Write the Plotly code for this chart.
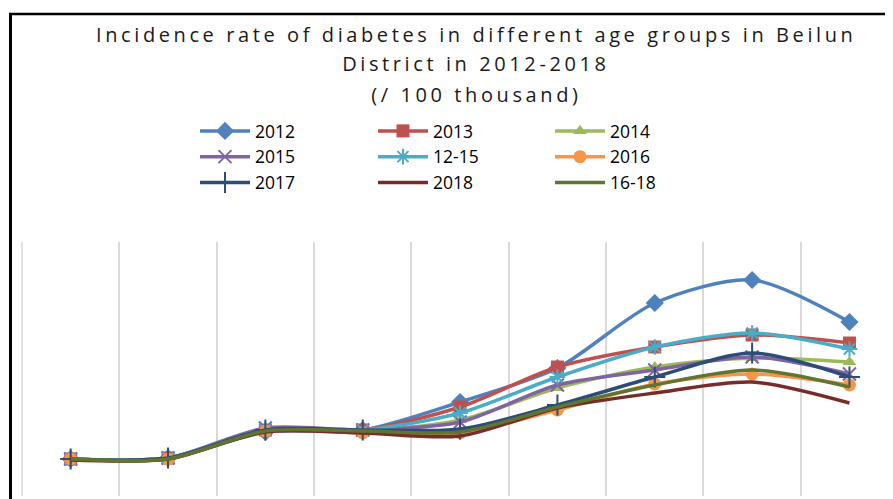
import plotly.graph_objects as go

age_groups = ["<25", "25-", "35-", "45-", "55-", "60-", "65-", "70-", "75+"]

series_names = ["2012", "2013", "2014", "2015", "12-15", "2016", "2017", "2018", "16-18"]
y2012 = [120, 123, 201, 207, 291, 393, 588, 657, 531]
y2013 = [120, 123, 207, 207, 276, 396, 456, 492, 468]
y2014 = [120, 123, 207, 204, 237, 333, 396, 423, 411]
y2015 = [120, 123, 213, 207, 231, 342, 387, 426, 375]
y1215 = [120, 123, 207, 207, 258, 366, 456, 498, 450]
y2016 = [120, 120, 204, 198, 198, 267, 345, 375, 342]
y2017 = [120, 123, 207, 207, 210, 282, 366, 438, 366]
y2018 = [117, 120, 201, 198, 189, 273, 318, 351, 288]
y1618 = [120, 120, 204, 204, 201, 276, 342, 387, 336]

title_lines = ["Incidence rate of diabetes in different age groups in Beilun",
               "District in 2012-2018",
               "(/ 100 thousand)"]

values = [y2012, y2013, y2014, y2015, y1215, y2016, y2017, y2018, y1618]
colors = ["#4F81BD", "#C0504D", "#9BBB59", "#8064A2", "#4BACC6",
          "#F79646", "#2C4D75", "#772C2A", "#5F7530"]
symbols = ["diamond", "square", "triangle-up", "x-thin-open", "asterisk-open",
           "circle", "cross-thin-open", None, None]
sizes = [14, 13, 12, 13, 13, 13, 15, 0, 0]
legend_ids = ["legend", "legend2", "legend3"] * 3

# figure is placed at an 8px body margin offset
W, H = 885, 491
L, R, T, B = 13, 885, 234, 488
step = 97.35

fig = go.Figure()
xs = list(range(len(age_groups)))
for name, ys, c, s, sz, lg in zip(series_names, values, colors, symbols, sizes, legend_ids):
    line = dict(color=c, width=3.5, shape="spline", smoothing=0.8)
    if s is None:
        fig.add_trace(go.Scatter(x=xs, y=ys, name=name, mode="lines", line=line, legend=lg))
    else:
        mk = dict(symbol=s, size=sz, color=c)
        if s.endswith("open"):
            mk["line"] = dict(color=c, width=2)
        fig.add_trace(go.Scatter(x=xs, y=ys, name=name, mode="lines+markers",
                                 line=line, marker=mk, legend=lg))

pw, ph = R - L, B - T
def px(x):
    return (x - L) / pw
def py(y):
    return (B - y) / ph

shapes = [
    dict(type="line", xref="x", yref="paper", x0=-0.5, x1=-0.5, y0=0, y1=1,
         line=dict(color="#D9D9D9", width=1.5), layer="below"),
    dict(type="line", xref="paper", yref="paper", x0=px(2.5), x1=px(2.5),
         y0=py(500), y1=py(6), line=dict(color="black", width=3)),
    dict(type="line", xref="paper", yref="paper", x0=px(1), x1=px(900),
         y0=py(6), y1=py(6), line=dict(color="black", width=2.5)),
]

title_y = [27, 56, 87]
annotations = [
    dict(text=t, xref="paper", yref="paper", x=px(468), y=py(yy),
         xanchor="center", yanchor="middle", showarrow=False,
         font=dict(family="Open Sans", size=20, color="#1a1a1a"))
    for t, yy in zip(title_lines, title_y)
]

legend_common = dict(orientation="v", xanchor="left", yanchor="top",
                     font=dict(family="Open Sans", size=17.5, color="black"),
                     itemwidth=50, bgcolor="rgba(0,0,0,0)", tracegroupgap=0)
leg_x = [187, 365, 542]
leg_top = 105

fig.update_layout(
    width=W, height=H,
    margin=dict(l=L, r=W - R, t=T, b=H - B),
    paper_bgcolor="white", plot_bgcolor="white",
    showlegend=True,
    legend=dict(x=px(leg_x[0]), y=py(leg_top), **legend_common),
    legend2=dict(x=px(leg_x[1]), y=py(leg_top), **legend_common),
    legend3=dict(x=px(leg_x[2]), y=py(leg_top), **legend_common),
    shapes=shapes,
    annotations=annotations,
    xaxis=dict(range=[-0.5 - 1 / step, -0.5 - 1 / step + pw / step],
               showgrid=True, gridcolor="#D9D9D9", gridwidth=1.5,
               showticklabels=False, ticks="", zeroline=False, showline=False,
               tickmode="array", tickvals=[i - 0.5 for i in range(0, 10)]),
    yaxis=dict(range=[(491 - B) * 3, (491 - T) * 3], showgrid=False,
               showticklabels=False, zeroline=False, showline=False, ticks=""),
)

post = """
var gd = document.getElementById('{plot_id}');
function fixSpacing(){
  gd.querySelectorAll('.annotation-text').forEach(function(e){ e.style.letterSpacing = '3.6px'; });
}
fixSpacing();
gd.on('plotly_afterplot', fixSpacing);
"""

fig.write_html("out.html", post_script=post)
